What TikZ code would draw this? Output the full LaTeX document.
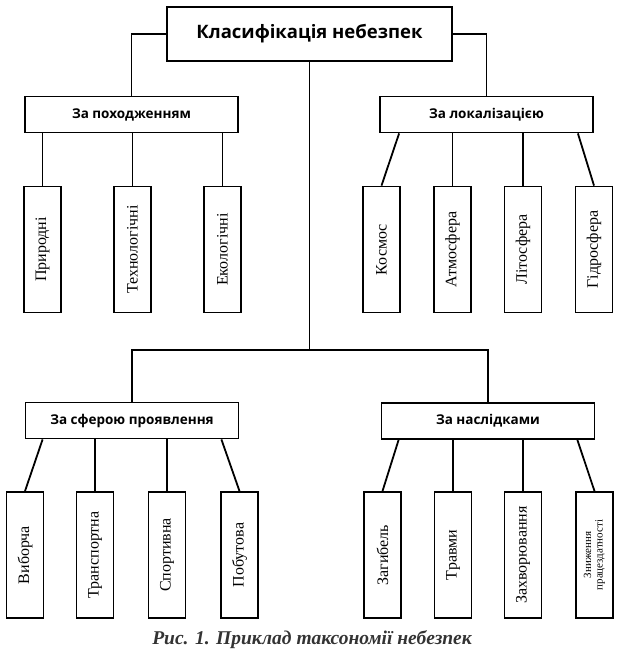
\documentclass[tikz,border=0pt]{standalone}
\usepackage{fontspec}
\usepackage{graphicx}
\setmainfont{Liberation Serif}
\newfontfamily\headfont{Open Sans}
\usetikzlibrary{calc}
\tikzset{
  group/.style={draw, minimum width=213pt, minimum height=36pt, inner sep=0pt,
    font=\headfont\bfseries\fontsize{13.5}{15}\selectfont},
  leaf/.style={draw, minimum width=37pt, minimum height=126pt, inner sep=0pt,
    font=\fontsize{16}{17}\selectfont}
}

\begin{document}
\begin{tikzpicture}[x=1pt,y=-1pt,line width=1.8pt,
    main/.style={draw, minimum width=285pt, minimum height=54pt, inner sep=0pt,
      font=\headfont\bfseries\fontsize{18.5}{20}\selectfont}]
      \useasboundingbox (0,0) rectangle (623,667);
      \node[main](root) at (309.5,34){Класифікація небезпек};

      \node[group](orig) at (131.5,114.5){За походженням};
      \node[group](loc) at (486.5,114.5){За локалізацією};
      \node[group](sph) at (132,420.5){За сферою проявлення};
      \node[group](cons) at (488,421){За наслідками};

      % top row
      \node[leaf](o1) at (42.5,249.5){\rotatebox{90}{Природні}};
      \node[leaf](o2) at (132.5,249.5){\rotatebox{90}{Технологічні}};
      \node[leaf](o3) at (222.5,249.5){\rotatebox{90}{Екологічні}};
      \node[leaf](l1) at (381.5,249.5){\rotatebox{90}{Космос}};
      \node[leaf](l2) at (452.5,249.5){\rotatebox{90}{Атмосфера}};
      \node[leaf](l3) at (523,249.5){\rotatebox{90}{Літосфера}};
      \node[leaf](l4) at (594,249.5){\rotatebox{90}{Гідросфера}};

      % bottom row
      \node[leaf](s1) at (25,555){\rotatebox{90}{Виборча}};
      \node[leaf](s2) at (95,555){\rotatebox{90}{Транспортна}};
      \node[leaf](s3) at (167,555){\rotatebox{90}{Спортивна}};
      \node[leaf](s4) at (239.5,555){\rotatebox{90}{Побутова}};
      \node[leaf](c1) at (382.5,555){\rotatebox{90}{Загибель}};
      \node[leaf](c2) at (453,555){\rotatebox{90}{Травми}};
      \node[leaf](c3) at (523,555){\rotatebox{90}{Захворювання}};
      \node[leaf](c4) at (594.5,555){\rotatebox{90}{\fontsize{11}{11.5}\selectfont
        \begin{tabular}{@{}c@{}}Зниження\\працездатності\end{tabular}}};

      \coordinate (hub) at (309.5,350);

      \draw (root) -| (orig);
      \draw (root) -| (loc);
      \draw (root.south) -- (hub);
      \draw (hub) -| (sph.north);
      \draw (hub) -| (cons.north);

      \draw (orig.south -| o1) -- (o1.north);
      \draw (orig.south -| o2) -- (o2.north);
      \draw (orig.south -| o3) -- (o3.north);

      \draw ([xshift=20pt]loc.south west) -- (l1.north);
      \draw (loc.south -| l2) -- (l2.north);
      \draw (loc.south -| l3) -- (l3.north);
      \draw ([xshift=-16pt]loc.south east) -- (l4.north);

      \draw ([xshift=18pt]sph.south west) -- (s1.north);
      \draw (sph.south -| s2) -- (s2.north);
      \draw (sph.south -| s3) -- (s3.north);
      \draw ([xshift=-18pt]sph.south east) -- (s4.north);

      \draw ([xshift=18pt]cons.south west) -- (c1.north);
      \draw (cons.south -| c2) -- (c2.north);
      \draw (cons.south -| c3) -- (c3.north);
      \draw ([xshift=-18pt]cons.south east) -- (c4.north);

      \node[font=\bfseries\itshape\fontsize{19.5}{21}\selectfont, text=black!80](cap) at (312,640)
        {Рис. 1. Приклад таксономії небезпек};
    \end{tikzpicture}
\end{document}
